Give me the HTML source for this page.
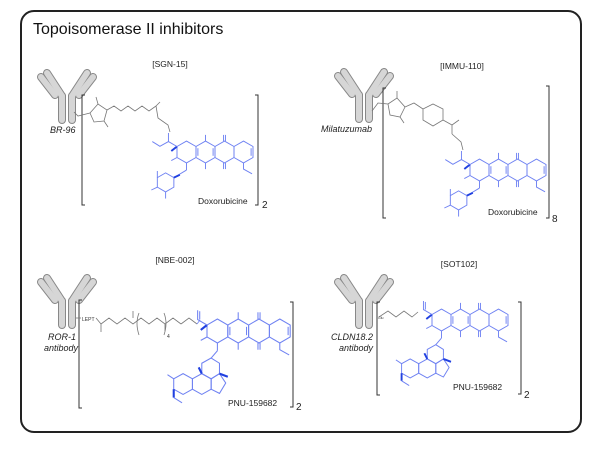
<!DOCTYPE html>
<html><head><meta charset="utf-8"><style>
html,body{margin:0;padding:0;background:#fff;}
svg{display:block;}
text{font-family:"Liberation Sans",sans-serif;}
</style></head><body>
<svg width="600" height="450" viewBox="0 0 600 450" xmlns="http://www.w3.org/2000/svg">
<defs>
 <g id="ab">
  <g stroke="#888" stroke-width="8" stroke-linecap="round" fill="none">
   <line x1="24" y1="28" x2="24" y2="52"/><line x1="34" y1="28" x2="34" y2="52"/>
   <line x1="24" y1="28" x2="9" y2="5"/><line x1="17" y1="27" x2="3" y2="9"/>
   <line x1="34" y1="28" x2="49" y2="5"/><line x1="41" y1="27" x2="55" y2="9"/>
  </g>
  <g stroke="#d6d6d6" stroke-width="6" stroke-linecap="round" fill="none">
   <line x1="24" y1="28" x2="24" y2="52"/><line x1="34" y1="28" x2="34" y2="52"/>
   <line x1="24" y1="28" x2="9" y2="5"/><line x1="17" y1="27" x2="3" y2="9"/>
   <line x1="34" y1="28" x2="49" y2="5"/><line x1="41" y1="27" x2="55" y2="9"/>
  </g>
 </g>
 <g id="core" stroke="#6f82f2" stroke-width="1" fill="none">
  <polygon points="10,-11.55 20,-5.77 20,5.77 10,11.55 0,5.77 0,-5.77"/>
  <polygon points="30,-11.55 40,-5.77 40,5.77 30,11.55 20,5.77 20,-5.77"/>
  <polygon points="50,-11.55 60,-5.77 60,5.77 50,11.55 40,5.77 40,-5.77"/>
  <polygon points="70,-11.55 80,-5.77 80,5.77 70,11.55 60,5.77 60,-5.77"/>
  <line x1="22" y1="-4" x2="22" y2="4"/><line x1="38" y1="-4" x2="38" y2="4"/><line x1="78" y1="-4" x2="78" y2="4"/>
  <line x1="30" y1="-11.55" x2="30" y2="-18"/><line x1="49" y1="-11.55" x2="49" y2="-18"/><line x1="51" y1="-11.55" x2="51" y2="-18"/>
  <line x1="30" y1="11.55" x2="30" y2="18"/><line x1="49" y1="11.55" x2="49" y2="18"/><line x1="51" y1="11.55" x2="51" y2="18"/>
  <polyline points="70,11.55 70,18 79,23"/>
  <line x1="10" y1="11.55" x2="10" y2="19"/>
  <line x1="0" y1="-5.77" x2="-6" y2="-1" stroke="#2040e0" stroke-width="2"/>
  <line x1="0" y1="5.77" x2="-6" y2="9"/>
 </g>
 <g id="dox" stroke="#6f82f2" stroke-width="1" fill="none">
  <use href="#core"/>
  <polyline points="0,-5.77 -9,-11 -18,-6 -26,-11"/>
  <line x1="-9" y1="-11" x2="-9" y2="-20"/>
  <polyline points="10,19 -3.3,27"/>
  <polygon points="-12,22 -3.3,27 -3.3,37 -12,42 -20.7,37 -20.7,27"/>
  <line x1="-3.3" y1="27" x2="3" y2="24" stroke="#2040e0" stroke-width="2"/>
  <line x1="-12" y1="42" x2="-12" y2="49"/><line x1="-20.7" y1="27" x2="-20.7" y2="20"/><line x1="-20.7" y1="37" x2="-27" y2="40"/>
 </g>
 <g id="pnu" stroke="#6f82f2" stroke-width="1" fill="none">
  <use href="#core"/>
  <polyline points="0,-5.77 -9,-11 -9,-20"/><line x1="-7" y1="-11" x2="-7" y2="-19"/>
  <polyline points="10,19 4,26"/>
  <polygon points="4,26 12,31 12,41 4,46 -5,41 -5,31"/>
  <polygon points="-5,41 4,46 4,56 -5,61 -14,56 -14,46"/>
  <polygon points="4,46 12,41 18,50 12,60 4,56"/>
  <polygon points="-14,46 -14,56 -23,61 -32,56 -32,46 -23,41"/>
  <line x1="12" y1="41" x2="20" y2="44" stroke="#2040e0" stroke-width="2"/>
  <line x1="-5" y1="41" x2="-8" y2="35" stroke="#2040e0" stroke-width="2"/>
  <line x1="-32" y1="56" x2="-32" y2="64" stroke="#2040e0" stroke-width="2"/><line x1="-32" y1="64" x2="-24" y2="69"/>
  <line x1="-32" y1="46" x2="-38" y2="42"/>
 </g>
</defs>

<rect x="21" y="11" width="560" height="421" rx="13" fill="none" stroke="#222" stroke-width="2"/>
<text x="33" y="34" font-size="16" fill="#111">Topoisomerase II inhibitors</text>

<!-- Panel 1 -->
<text x="170" y="67" font-size="8.5" text-anchor="middle" fill="#222">[SGN-15]</text>
<use href="#ab" x="38" y="68"/>
<text x="50" y="133" font-size="9" font-style="italic" fill="#222">BR-96</text>
<path d="M85,95 h-3 v110 h3 M255,95 h3 v110 h-3" stroke="#333" stroke-width="1" fill="none"/>
<text x="262" y="208" font-size="10" fill="#222">2</text>
<g stroke="#777" stroke-width="0.8" fill="none">
 <polyline points="74,112 78,116 90,113"/>
 <polygon points="90,113 98,104 107,110 104,121 94,122"/>
 <line x1="98" y1="104" x2="96" y2="97"/><line x1="104" y1="121" x2="108" y2="127"/>
 <polyline points="107,110 114,106 121,111 128,106 135,111 142,106 149,111 156,106"/>
 <line x1="156" y1="106" x2="160" y2="102"/>
 <polyline points="156,106 158,118 168,125 170,132"/>
</g>
<use href="#dox" transform="translate(177,152) scale(0.95)"/>
<text x="198" y="204" font-size="8.5" fill="#222">Doxorubicine</text>

<!-- Panel 2 -->
<text x="462" y="69" font-size="8.5" text-anchor="middle" fill="#222">[IMMU-110]</text>
<use href="#ab" x="335" y="67"/>
<text x="321" y="132" font-size="9" font-style="italic" fill="#222">Milatuzumab</text>
<path d="M386,88 h-3 v130 h3 M546,86 h3 v132 h-3" stroke="#333" stroke-width="1" fill="none"/>
<text x="552" y="222" font-size="10" fill="#222">8</text>
<g stroke="#777" stroke-width="0.8" fill="none">
 <polyline points="372,111 378,103 388,104"/>
 <polygon points="388,104 397,98 405,107 400,117 390,115"/>
 <line x1="397" y1="98" x2="397" y2="91"/><line x1="400" y1="117" x2="404" y2="123"/>
 <polyline points="405,107 414,103 423,109"/>
 <polygon points="423,109 433,104 443,109 443,120 433,126 423,120"/>
 <polyline points="443,120 452,125 459,120"/><line x1="452" y1="125" x2="452" y2="134"/>
 <polyline points="452,134 461,142 463,150"/>
</g>
<use href="#dox" transform="translate(470,170) scale(0.95)"/>
<text x="488" y="215" font-size="8.5" fill="#222">Doxorubicine</text>

<!-- Panel 3 -->
<text x="175" y="263" font-size="8.5" text-anchor="middle" fill="#222">[NBE-002]</text>
<use href="#ab" x="38" y="273"/>
<text x="48" y="340" font-size="9" font-style="italic" fill="#222">ROR-1</text>
<text x="44" y="351" font-size="9" font-style="italic" fill="#222">antibody</text>
<path d="M82,300 h-3 v108 h3 M290,302 h3 v105 h-3" stroke="#333" stroke-width="1" fill="none"/>
<text x="296" y="410" font-size="10" fill="#222">2</text>
<text x="82" y="321" font-size="5" fill="#333">LEPT</text>
<g stroke="#777" stroke-width="0.8" fill="none">
 <line x1="76" y1="318" x2="81" y2="318"/>
 <polyline points="96,318 101,324 101,332"/>
 <polyline points="101,324 109,318 117,324 125,318 133,324 141,318 149,324 157,318 165,324 173,318 181,324"/>
 <line x1="133" y1="318" x2="133" y2="311"/><line x1="165" y1="324" x2="165" y2="331"/>
 <path d="M139,313 q-4,10 0,22 M164,313 q4,10 0,22"/>
</g>
<text x="167" y="338" font-size="5" fill="#333">4</text>
<g stroke="#777" stroke-width="0.8" fill="none"><polyline points="181,324 189,318 197,324"/></g>
<use href="#pnu" transform="translate(207,331) scale(1.04)"/>
<polyline points="197,324 200,320" stroke="#6f82f2" stroke-width="0.8" fill="none"/>
<text x="228" y="406" font-size="8.5" fill="#222">PNU-159682</text>

<!-- Panel 4 -->
<text x="459" y="267" font-size="8.5" text-anchor="middle" fill="#222">[SOT102]</text>
<use href="#ab" x="335" y="273"/>
<text x="373" y="340" font-size="9" font-style="italic" text-anchor="end" fill="#222">CLDN18.2</text>
<text x="373" y="351" font-size="9" font-style="italic" text-anchor="end" fill="#222">antibody</text>
<path d="M380,302 h-3 v93 h3 M518,302 h3 v92 h-3" stroke="#333" stroke-width="1" fill="none"/>
<text x="524" y="398" font-size="10" fill="#222">2</text>
<g stroke="#777" stroke-width="0.8" fill="none">
 <polyline points="379,317 388,311 396,317 404,311 412,317 418,312"/>
</g>
<text x="378" y="319" font-size="3.5" fill="#333">Glu</text>
<use href="#pnu" transform="translate(432,320) scale(0.95)"/>
<text x="453" y="390" font-size="8.5" fill="#222">PNU-159682</text>
</svg>
</body></html>
